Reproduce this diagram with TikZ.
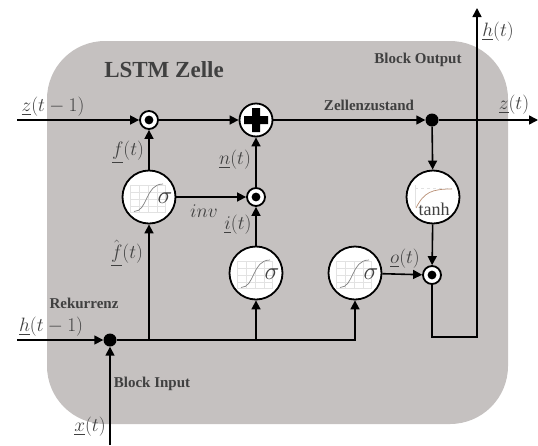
\documentclass[tikz,border=0pt]{standalone}
\usepackage{fontspec}
\setmainfont{Liberation Serif}
\usepackage{amsmath}
\usetikzlibrary{arrows,arrows.meta,calc}
\definecolor{zellegrau}{HTML}{C5C1C0}
\definecolor{testo}{HTML}{404040}
\definecolor{griglia}{HTML}{E2E2E2}
\definecolor{curva}{HTML}{B98F75}
\tikzset{
>={Triangle[length=9pt,width=9pt]},
zelle node/.style={fill=zellegrau,rounded corners=58pt,inner sep=0pt,minimum width=461pt,minimum height=383pt},
attiv node/.style={circle,draw,line width=1.8pt,fill=white,inner sep=0pt,minimum size=53pt},
prod node/.style={circle,draw,line width=1.8pt,fill=white,inner sep=0pt,minimum size=18pt,path picture={\fill[black] (path picture bounding box.center) circle (4.4pt);}},
piu node/.style={circle,draw,line width=1.8pt,fill=white,inner sep=0pt,minimum size=33pt},
punto node/.style={circle,fill=black,inner sep=0pt,minimum size=13pt},
freccia/.style={->,line width=1.6pt},
segnale/.style={text=testo,font=\fontsize{17}{17}\selectfont,inner sep=0pt,transform shape,scale=1.12},
titolo/.style={text=testo,font=\fontsize{15}{15}\selectfont\bfseries,inner sep=0pt},
sigmoide/.pic={
\draw[griglia,line width=.4pt] (-19,-12) rectangle (16,15);
\draw[griglia,line width=.3pt] (-19,-5) -- (16,-5) (-19,2) -- (16,2) (-19,9) -- (16,9) (-10,-12) -- (-10,15) (-1,-12) -- (-1,15) (8,-12) -- (8,15);
\draw[gray,line width=.7pt] (-15,14.5) .. controls (-1,14.5) and (-4,-13) .. (14,-13);
\node (-s) [text=testo,font=\fontsize{25}{25}\selectfont,inner sep=0pt] at (16,1) {$\sigma$};
}}
\begin{document}
\begin{tikzpicture}[x=1pt,y=-1pt]
\useasboundingbox (0,0) rectangle (538,445);

\node (cella) [zelle node] at (277.5,232.5) {};

\node (m1) [prod node] at (149,120) {};
\node (piu) [piu node] at (256,120) {};
\node (m2) [prod node] at (256,197) {};
\node (m3) [prod node] at (432,275) {};
\node (p1) [punto node] at (432,120) {};
\node (p2) [punto node] at (110,340) {};
\node (s1) [attiv node] at (149,197) {};
\node (s2) [attiv node] at (256,273) {};
\node (s3) [attiv node] at (355,273) {};
\node (t1) [attiv node] at (433,197) {};

\coordinate (zin) at (17,120);
\coordinate (zout) at (538,120);
\coordinate (hin) at (17,340);
\coordinate (hout) at (477,8);
\coordinate (xin) at (110,445);
\coordinate (g1) at (432,337);
\coordinate (g2) at (477,337);
\coordinate (b1) at (149,340);
\coordinate (b2) at (256,340);
\coordinate (b3) at (355,340);

\fill (piu.center) ++(-4,-12) -- ++(8,0) -- ++(0,8) -- ++(8,0) -- ++(0,8) -- ++(-8,0) -- ++(0,8) -- ++(-8,0) -- ++(0,-8) -- ++(-8,0) -- ++(0,-8) -- ++(8,0) -- cycle;
\pic (i1) at (s1) {sigmoide};
\pic (i2) at (s2) {sigmoide};
\pic (i3) at (s3) {sigmoide};

% tanh
\draw[griglia,line width=.5pt] (415,185) -- (415,207);
\draw[griglia,dashed,line width=.4pt] (415,188) -- (452,188);
\draw[curva,line width=.7pt] (416,208) .. controls (424,192) and (432,189) .. (452,189);
\node (t1t) [text=testo,font=\fontsize{18}{18}\selectfont,inner sep=0pt] at (434,209) {tanh};

\draw[freccia] (zin) -- (m1);
\draw[freccia] (m1) -- (piu);
\draw[freccia] (piu) -- (p1);
\draw[freccia] (p1) -- (zout);
\draw[freccia] (p1) -- (t1);
\draw[freccia] (t1) -- (m3);
\draw[freccia] (s1) -- (m1);
\draw[freccia] (s1) -- (m2);
\draw[freccia] (m2) -- (piu);
\draw[freccia] (s2) -- (m2);
\draw[freccia] (s3) -- (m3);
\draw[freccia] (hin) -- (p2);
\draw[freccia] (xin) -- (p2);
\draw[freccia] (p2) -- (b3) -- (s3);
\draw[freccia] (b1) -- (s1);
\draw[freccia] (b2) -- (s2);
\draw[freccia] (m3) -- (g1) -- (g2) -- (hout);

\node (l1) [segnale] at (53,107) {$\underline{z}(t-1)$};
\node (l2) [segnale] at (51,327) {$\underline{h}(t-1)$};
\node (l3) [segnale] at (128,152) {$\underline{f}(t)$};
\node (l4) [segnale] at (235,160) {$\underline{n}(t)$};
\node (l5) [segnale] at (127,253) {$\hat{\underline{f}}(t)$};
\node (l6) [segnale] at (238,225) {$\underline{i}(t)$};
\node (l7) [segnale] at (204,211) {$inv$};
\node (l8) [segnale] at (405,259) {$\underline{o}(t)$};
\node (l9) [segnale] at (498,32) {$\underline{h}(t)$};
\node (l10) [segnale] at (514,105) {$\underline{z}(t)$};
\node (l11) [segnale] at (90,427) {$\underline{x}(t)$};

\node (c1) [titolo,font=\fontsize{23}{23}\selectfont\bfseries] at (164,70) {LSTM Zelle};
\node (c2) [titolo] at (418,60) {Block Output};
\node (c3) [titolo] at (369,105) {Zellenzustand};
\node (c4) [titolo] at (84,303) {Rekurrenz};
\node (c5) [titolo] at (152,384) {Block Input};

\end{tikzpicture}
\end{document}
